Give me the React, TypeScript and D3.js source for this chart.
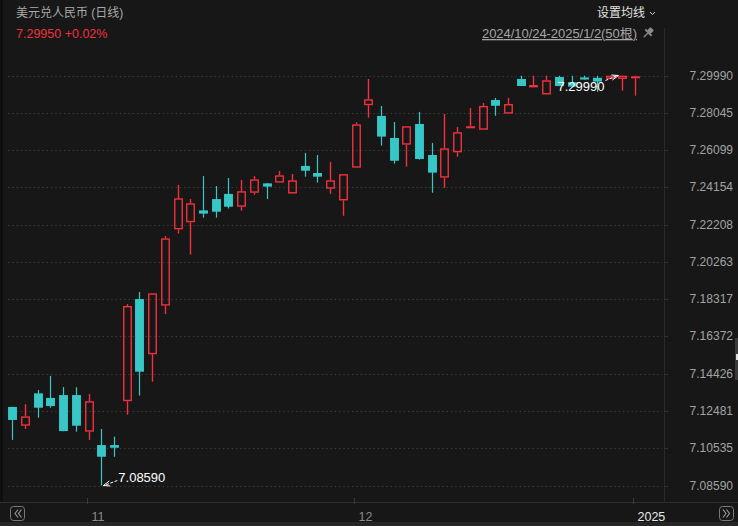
import { useEffect, useRef } from 'react';
import * as d3 from 'd3';

// trading days shown (50 bars)
const dates = [
  '2024-10-24', '2024-10-25', '2024-10-28', '2024-10-29', '2024-10-30', '2024-10-31', '2024-11-01',
  '2024-11-04', '2024-11-05', '2024-11-06', '2024-11-07', '2024-11-08',
  '2024-11-11', '2024-11-12', '2024-11-13', '2024-11-14', '2024-11-15',
  '2024-11-18', '2024-11-19', '2024-11-20', '2024-11-21', '2024-11-22',
  '2024-11-25', '2024-11-26', '2024-11-27', '2024-11-28', '2024-11-29',
  '2024-12-02', '2024-12-03', '2024-12-04', '2024-12-05', '2024-12-06',
  '2024-12-09', '2024-12-10', '2024-12-11', '2024-12-12', '2024-12-13',
  '2024-12-16', '2024-12-17', '2024-12-18', '2024-12-19', '2024-12-20',
  '2024-12-23', '2024-12-24', '2024-12-25', '2024-12-26', '2024-12-27',
  '2024-12-30', '2024-12-31', '2025-01-02',
];

const opens = [
  7.1269, 7.1171, 7.1340, 7.1316, 7.1331, 7.1331, 7.1140, 7.1070, 7.1070, 7.1299,
  7.1832, 7.1544, 7.1798, 7.2196, 7.2233, 7.2295, 7.2354, 7.2381, 7.2314, 7.2387,
  7.2436, 7.2440, 7.2383, 7.2527, 7.2490, 7.2408, 7.2347, 7.2518, 7.2844, 7.2788,
  7.2673, 7.2638, 7.2746, 7.2584, 7.2466, 7.2598, 7.2730, 7.2716, 7.2871, 7.2800,
  7.2981, 7.2937, 7.2900, 7.2991, 7.2964, 7.2989, 7.2987, 7.2981, 7.2981, 7.2984,
];
const highs = [
  7.1270, 7.1283, 7.1358, 7.1431, 7.1373, 7.1372, 7.1337, 7.1154, 7.1114, 7.1806,
  7.1869, 7.1863, 7.2161, 7.2428, 7.2354, 7.2474, 7.2422, 7.2464, 7.2454, 7.2474,
  7.2437, 7.2501, 7.2485, 7.2595, 7.2584, 7.2548, 7.2485, 7.2755, 7.2981, 7.2840,
  7.2756, 7.2735, 7.2809, 7.2647, 7.2798, 7.2730, 7.2829, 7.2856, 7.2882, 7.2882,
  7.2998, 7.2998, 7.2998, 7.2998, 7.2998, 7.2998, 7.2998, 7.2998, 7.2999, 7.2998,
];
const lows = [
  7.1097, 7.1154, 7.1213, 7.1265, 7.1142, 7.1140, 7.1097, 7.0859, 7.1009, 7.1229,
  7.1328, 7.1401, 7.1754, 7.2174, 7.2064, 7.2257, 7.2257, 7.2305, 7.2293, 7.2377,
  7.2354, 7.2439, 7.2382, 7.2471, 7.2440, 7.2381, 7.2267, 7.2517, 7.2779, 7.2633,
  7.2539, 7.2523, 7.2560, 7.2387, 7.2413, 7.2575, 7.2727, 7.2716, 7.2789, 7.2800,
  7.2944, 7.2937, 7.2900, 7.2944, 7.2940, 7.2978, 7.2914, 7.2981, 7.2920, 7.2894,
];
const closes = [
  7.1201, 7.1220, 7.1265, 7.1274, 7.1143, 7.1171, 7.1299, 7.1009, 7.1056, 7.1796,
  7.1453, 7.1862, 7.2149, 7.2358, 7.2332, 7.2278, 7.2288, 7.2314, 7.2395, 7.2457,
  7.2419, 7.2478, 7.2452, 7.2502, 7.2471, 7.2452, 7.2484, 7.2744, 7.2875, 7.2680,
  7.2554, 7.2734, 7.2563, 7.2492, 7.2619, 7.2703, 7.2734, 7.2840, 7.2841, 7.2850,
  7.2944, 7.2949, 7.2974, 7.2944, 7.2941, 7.2978, 7.2967, 7.2998, 7.2998, 7.2995,
];

const priceTicks = [
  '7.29990', '7.28045', '7.26099', '7.24154', '7.22208', '7.20263',
  '7.18317', '7.16372', '7.14426', '7.12481', '7.10535', '7.08590',
];

const monthTicks = ['2024-11-01', '2024-12-02', '2025-01-02'];
const monthLabels = ['11', '12', '2025'];

const title = '美元兑人民币 (日线)';
const lastText = '7.29950 +0.02%';
const rangeText = '2024/10/24-2025/1/2(50根)';

const RED = '#f2313d';
const TEAL = '#38c7c7';
const FONT = '"Liberation Sans", "Noto Sans CJK SC", sans-serif';

const App = () => {
  const svgRef = useRef<SVGSVGElement | null>(null);

  useEffect(() => {
    if (!svgRef.current) return;
    const width = 738;
    const height = 526;
    const svg = d3.select(svgRef.current).attr('width', width).attr('height', height);
    svg.selectAll('*').remove();

    const tickVals = priceTicks.map(Number);
    const y = d3.scaleLinear()
      .domain([d3.min(tickVals) as number, d3.max(tickVals) as number])
      .range([485.5, 75.5]);
    const x = d3.scaleBand<string>()
      .domain(dates)
      .range([6, 641.5])
      .paddingInner(0.3)
      .paddingOuter(0.15);
    const bw = x.bandwidth();
    const cx = (d: string) => (x(d) as number) + bw / 2;

    svg.append('rect').attr('width', width).attr('height', height).attr('fill', '#171717');
    svg.append('rect').attr('y', 522).attr('width', width).attr('height', 4).attr('fill', '#262626');

    // left edge & right plot border
    svg.append('line').attr('x1', 1.5).attr('x2', 1.5).attr('y1', 0).attr('y2', 502)
      .attr('stroke', '#0b0b0b').attr('stroke-width', 2);
    svg.append('line').attr('x1', 664.5).attr('x2', 664.5).attr('y1', 28).attr('y2', 502)
      .attr('stroke', '#2a2a2a');
    svg.append('line').attr('x1', 0).attr('x2', width).attr('y1', 502.5).attr('y2', 502.5)
      .attr('stroke', '#2e2e2e');

    // grid + right axis
    const grid = svg.append('g');
    grid.selectAll('line.grid')
      .data(tickVals)
      .enter()
      .append('line')
      .attr('x1', 8).attr('x2', 662)
      .attr('y1', d => Math.round(y(d)) + 0.5)
      .attr('y2', d => Math.round(y(d)) + 0.5)
      .attr('stroke', '#3c3c3c')
      .attr('stroke-dasharray', '1.4,2.9');
    grid.selectAll('line.tk')
      .data(tickVals)
      .enter()
      .append('line')
      .attr('x1', 664).attr('x2', 668)
      .attr('y1', d => Math.round(y(d)) + 0.5)
      .attr('y2', d => Math.round(y(d)) + 0.5)
      .attr('stroke', '#333');
    grid.selectAll('text')
      .data(priceTicks)
      .enter()
      .append('text')
      .attr('x', 733)
      .attr('y', d => y(+d) + 4)
      .attr('text-anchor', 'end')
      .attr('font-family', FONT)
      .attr('font-size', 12)
      .attr('fill', '#a3a3a3')
      .text(d => d);

    // month ticks
    monthTicks.forEach((d, i) => {
      const px = Math.round(cx(d)) - 1.5;
      svg.append('line').attr('x1', px).attr('x2', px).attr('y1', 498).attr('y2', 504)
        .attr('stroke', '#3a3a3a');
      svg.append('text')
        .attr('x', px + 4)
        .attr('y', 521)
        .attr('font-family', FONT)
        .attr('font-size', 12.5)
        .attr('fill', i === monthTicks.length - 1 ? '#e8e8e8' : '#8c8c8c')
        .text(monthLabels[i]);
    });

    // candles
    const candles = dates.map((d, i) => ({
      d, o: opens[i], h: highs[i], l: lows[i], c: closes[i],
    }));
    const g = svg.append('g');
    candles.forEach(k => {
      const up = k.c >= k.o;
      const col = up ? RED : TEAL;
      const xc = Math.round(cx(k.d)) + 0.5;
      const top = y(Math.max(k.o, k.c));
      const bot = y(Math.min(k.o, k.c));
      if (up) {
        g.append('line').attr('x1', xc).attr('x2', xc).attr('y1', y(k.h)).attr('y2', top)
          .attr('stroke', col).attr('stroke-width', 1.4);
        g.append('line').attr('x1', xc).attr('x2', xc).attr('y1', bot).attr('y2', y(k.l))
          .attr('stroke', col).attr('stroke-width', 1.4);
        g.append('rect')
          .attr('x', xc - bw / 2 + 0.7)
          .attr('y', top + 0.7)
          .attr('width', bw - 1.4)
          .attr('height', Math.max(bot - top - 1.4, 0.6))
          .attr('fill', 'none')
          .attr('stroke', col)
          .attr('stroke-width', 1.4);
      } else {
        g.append('line').attr('x1', xc).attr('x2', xc).attr('y1', y(k.h)).attr('y2', y(k.l))
          .attr('stroke', col).attr('stroke-width', 1.2);
        g.append('rect')
          .attr('x', xc - bw / 2)
          .attr('y', top)
          .attr('width', bw)
          .attr('height', Math.max(bot - top, 1.2))
          .attr('fill', col);
      }
    });

    // min / max annotations
    const minI = d3.minIndex(lows);
    const maxI = d3.maxIndex(highs);
    const ann = svg.append('g').attr('fill', '#ffffff').attr('stroke', '#ffffff');
    const mx = cx(dates[minI]) + 2;
    const my = y(lows[minI]);
    ann.append('line').attr('x1', mx + 14).attr('y1', my - 5).attr('x2', mx + 1).attr('y2', my)
      .attr('stroke-dasharray', '3,1.5').attr('stroke-width', 1);
    ann.append('path')
      .attr('d', `M${mx},${my} l6,-4.5 M${mx},${my} l7,0.5`)
      .attr('fill', 'none').attr('stroke-width', 1);
    ann.append('text').attr('x', mx + 15).attr('y', my - 4)
      .attr('stroke', 'none').attr('font-family', FONT).attr('font-size', 13)
      .text(lows[minI].toFixed(5));

    const hx = cx(dates[maxI]) - 4;
    const hy = y(highs[maxI]);
    ann.append('line').attr('x1', hx - 13).attr('y1', hy + 5).attr('x2', hx - 1).attr('y2', hy)
      .attr('stroke-dasharray', '3,1.5').attr('stroke-width', 1);
    ann.append('path')
      .attr('d', `M${hx},${hy} l-7,-0.5 M${hx},${hy} l-6,4.5`)
      .attr('fill', 'none').attr('stroke-width', 1);
    ann.append('text').attr('x', hx - 14).attr('y', hy + 15)
      .attr('text-anchor', 'end')
      .attr('stroke', 'none').attr('font-family', FONT).attr('font-size', 13)
      .text(highs[maxI].toFixed(5));

    // header
    svg.append('text').attr('x', 16).attr('y', 17)
      .attr('font-family', FONT).attr('font-size', 12).attr('fill', '#a8a8a8').text(title);
    svg.append('text').attr('x', 16).attr('y', 38)
      .attr('font-family', FONT).attr('font-size', 12.5).attr('fill', RED).text(lastText);
    svg.append('text').attr('x', 597).attr('y', 17)
      .attr('font-family', FONT).attr('font-size', 12).attr('fill', '#e2e2e2').text('设置均线');
    svg.append('path').attr('d', 'M650,12 l2.5,2.5 l2.5,-2.5')
      .attr('fill', 'none').attr('stroke', '#cfcfcf').attr('stroke-width', 1);
    const rt = svg.append('text').attr('x', 482).attr('y', 38)
      .attr('font-family', FONT).attr('font-size', 13).attr('fill', '#a5a5a5')
      .attr('text-decoration', 'underline').text(rangeText);
    rt.attr('textLength', 155);
    // pin icon
    svg.append('g').attr('transform', 'translate(648,33) rotate(45)')
      .attr('fill', '#8a8a8a')
      .call(s => {
        s.append('rect').attr('x', -2.5).attr('y', -6).attr('width', 5).attr('height', 5).attr('rx', 1);
        s.append('rect').attr('x', -4.5).attr('y', -1.5).attr('width', 9).attr('height', 1.8);
        s.append('rect').attr('x', -0.6).attr('y', 0).attr('width', 1.2).attr('height', 6);
      });

    // scroll buttons
    const btn = (bx: number, left: boolean) => {
      svg.append('rect').attr('x', bx + 0.5).attr('y', 506.5).attr('width', 14).attr('height', 14)
        .attr('rx', 3).attr('fill', 'none').attr('stroke', '#7a7a7a');
      const dir = left ? -1 : 1;
      const c0 = bx + 7.5;
      const p = (o: number) => `M${c0 + o - dir * 2},${509.5} l${dir * 3},4 l${-dir * 3},4`;
      svg.append('path').attr('d', p(-1.5) + ' ' + p(2))
        .attr('fill', 'none').attr('stroke', '#9a9a9a').attr('stroke-width', 1.1);
    };
    btn(10, true);
    btn(719, false);

    // side handle
    svg.append('rect').attr('x', 735).attr('y', 338).attr('width', 3).attr('height', 42).attr('fill', '#3a3a3a');
    svg.append('rect').attr('x', 736).attr('y', 354).attr('width', 2).attr('height', 6).attr('fill', '#e0e0e0');
  }, []);

  return (
    <svg ref={svgRef} style={{ position: 'fixed', left: 0, top: 0, display: 'block' }}></svg>
  );
};

export default App;
